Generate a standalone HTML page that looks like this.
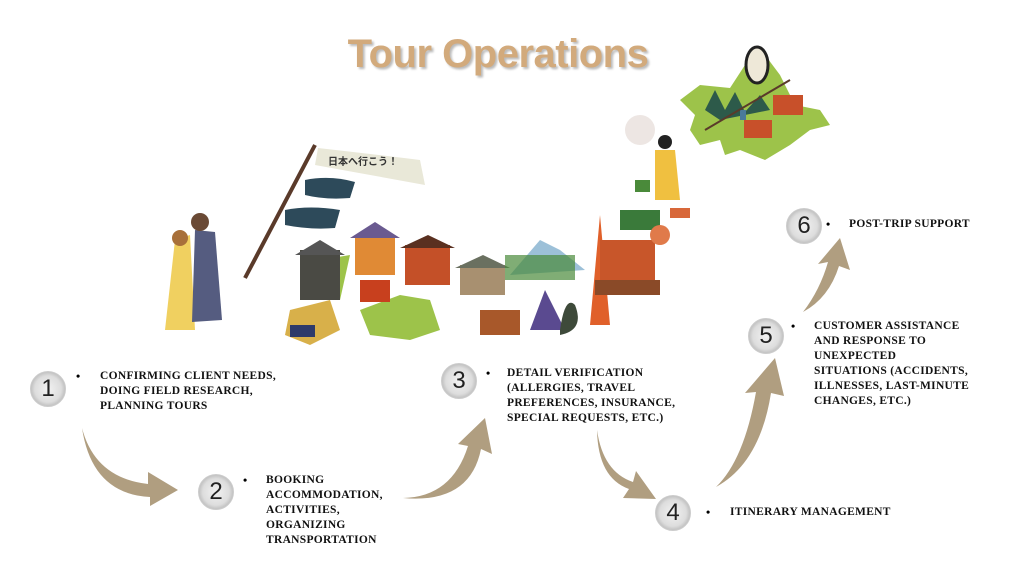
<!DOCTYPE html>
<html><head><meta charset="utf-8"><style>
html,body{margin:0;padding:0;background:#fff;}
#c{position:relative;width:1024px;height:574px;overflow:hidden;background:#fff;font-family:"Liberation Serif",serif;}
.t{position:absolute;font-weight:bold;font-size:11.5px;line-height:15px;color:#111;letter-spacing:0.3px;text-transform:uppercase;}
.b{position:absolute;font-size:12px;font-weight:bold;}
.n{position:absolute;width:34px;height:34px;border-radius:50%;background:radial-gradient(circle at 50% 50%,#f2f2f2 0,#ddd 55%,#bbb 75%,#fff 80%,#ddd 100%);border:1px solid #ccc;font-family:"Liberation Sans",sans-serif;font-size:24px;line-height:34px;text-align:center;color:#222;}
h1{position:absolute;left:0;width:996px;top:32px;margin:0;text-align:center;font-family:"Liberation Sans",sans-serif;font-size:40px;font-weight:bold;color:#d2aa7c;text-shadow:2px 2px 2px #bbb;letter-spacing:-0.5px;}
</style></head><body><div id="c">
<svg width="1024" height="574" style="position:absolute;left:0;top:0">
<!-- Hokkaido -->
<path d="M680 100 L700 85 L730 88 L745 65 L765 55 L780 75 L795 105 L820 110 L830 125 L810 130 L790 145 L765 160 L740 150 L725 155 L720 140 L700 145 L690 130 L695 115Z" fill="#9dc34a"/>
<path d="M705 110 L715 90 L725 110 L735 92 L745 112 L760 95 L770 110 L720 120Z" fill="#2d5a4a"/>
<rect x="740" y="110" width="6" height="10" fill="#4a7a9a"/>
<line x1="705" y1="130" x2="790" y2="80" stroke="#5a3a2a" stroke-width="2"/>
<rect x="773" y="95" width="30" height="20" fill="#c8502a"/><rect x="744" y="120" width="28" height="18" fill="#c8502a"/>
<ellipse cx="757" cy="65" rx="11" ry="18" fill="#eee8d8" stroke="#222" stroke-width="3"/>
<!-- Honshu-ish lands -->
<path d="M360 310 L400 295 L430 300 L440 330 L410 340 L370 335Z" fill="#9dc34a"/>
<path d="M290 310 L330 300 L340 330 L310 345 L285 335Z" fill="#d8b04a"/>
<path d="M300 290 L320 260 L350 255 L340 300Z" fill="#9dc34a"/>
<!-- kites pole -->
<line x1="315" y1="145" x2="245" y2="278" stroke="#5a3a2a" stroke-width="4"/>
<path d="M318 148 Q380 155 420 160 L425 185 Q370 175 315 165Z" fill="#e9e8d8"/>
<text x="328" y="165" font-family="Noto Sans CJK JP,sans-serif" font-size="10" font-weight="bold" fill="#333">日本へ行こう！</text>
<path d="M305 180 Q330 175 355 182 L350 198 Q325 200 305 195Z" fill="#2d4a5a"/>
<path d="M285 210 Q310 205 340 210 L335 228 Q310 230 285 225Z" fill="#2d4a5a"/>
<!-- couple -->
<path d="M175 240 L190 235 L195 330 L165 330 Z" fill="#f0d060"/>
<path d="M195 230 L215 232 L222 320 L192 322 Z" fill="#555c80"/>
<circle cx="180" cy="238" r="8" fill="#a8703a"/><circle cx="200" cy="222" r="9" fill="#6a4a35"/>
<!-- buildings -->
<rect x="300" y="250" width="40" height="50" fill="#4a4a44"/><polygon points="295,255 320,240 345,255" fill="#555"/>
<rect x="355" y="235" width="40" height="40" fill="#e08a35"/><polygon points="350,238 375,222 400,238" fill="#6a5a90"/>
<rect x="360" y="280" width="30" height="22" fill="#c8401e"/>
<rect x="405" y="245" width="45" height="40" fill="#c45028"/><polygon points="400,248 428,235 455,248" fill="#5a3020"/>
<rect x="460" y="265" width="45" height="30" fill="#a89070"/><polygon points="455,268 483,255 510,268" fill="#6a7060"/>
<polygon points="510,275 540,240 560,250 585,270" fill="#9cc0d8"/><rect x="505" y="255" width="70" height="25" fill="#4a8a3a" opacity=".7"/>
<polygon points="530,330 545,290 565,330" fill="#5a4a90"/>
<rect x="480" y="310" width="40" height="25" fill="#a8582a"/>
<path d="M560 330 Q565 295 575 305 Q585 330 560 335Z" fill="#3e4a3a"/>
<polygon points="590,325 600,215 610,325" fill="#e0602a"/>
<rect x="600" y="240" width="55" height="40" fill="#c8562a"/><rect x="595" y="280" width="65" height="15" fill="#8a4a28"/>
<rect x="620" y="210" width="40" height="20" fill="#3a7a3a"/>
<circle cx="660" cy="235" r="10" fill="#e07a4a"/>
<rect x="670" y="208" width="20" height="10" fill="#d8683a"/>
<path d="M655 150 L675 150 L680 200 L655 200Z" fill="#f0c040"/><circle cx="665" cy="142" r="7" fill="#222"/>
<circle cx="640" cy="130" r="15" fill="#e8e0dc" opacity=".8"/>
<rect x="635" y="180" width="15" height="12" fill="#4a8a3a"/>
<rect x="290" y="325" width="25" height="12" fill="#2d3a6a"/>
<!-- arrows -->
<g fill="#b09e80">
<path d="M82 428 Q95 478 148 484 L148 472 L178 490 L150 506 L150 497 Q92 494 82 428Z"/>
<path d="M403 498 Q452 497 468 446 L458 444 L485 418 L492 454 L481 449 Q470 504 403 498Z"/>
<path d="M597 430 Q603 472 633 482 L636 471 L656 499 L623 498 L629 489 Q598 478 597 430Z"/>
<path d="M716 487 Q744 460 756 392 L745 393 L775 358 L784 396 L771 393 Q760 463 716 487Z"/>
<path d="M803 312 Q820 290 828 262 L818 264 L840 238 L850 270 L839 266 Q829 298 803 312Z"/>
</g>
</svg>
<h1>Tour Operations</h1>
<div class="n" style="left:30px;top:371px">1</div>
<div class="b" style="left:76px;top:369px">•</div>
<div class="t" style="left:100px;top:369px">Confirming client needs,<br>doing field research,<br>planning tours</div>
<div class="n" style="left:198px;top:474px">2</div>
<div class="b" style="left:243px;top:473px">•</div>
<div class="t" style="left:266px;top:473px">Booking<br>accommodation,<br>activities,<br>organizing<br>transportation</div>
<div class="n" style="left:441px;top:363px">3</div>
<div class="b" style="left:486px;top:366px">•</div>
<div class="t" style="left:507px;top:366px">Detail verification<br>(allergies, travel<br>preferences, insurance,<br>special requests, etc.)</div>
<div class="n" style="left:655px;top:495px">4</div>
<div class="b" style="left:706px;top:505px">•</div>
<div class="t" style="left:730px;top:505px">Itinerary management</div>
<div class="n" style="left:748px;top:318px">5</div>
<div class="b" style="left:791px;top:319px">•</div>
<div class="t" style="left:814px;top:319px">Customer assistance<br>and response to<br>unexpected<br>situations (accidents,<br>illnesses, last-minute<br>changes, etc.)</div>
<div class="n" style="left:786px;top:208px">6</div>
<div class="b" style="left:826px;top:217px">•</div>
<div class="t" style="left:849px;top:217px">Post-trip support</div>
</div></body></html>
